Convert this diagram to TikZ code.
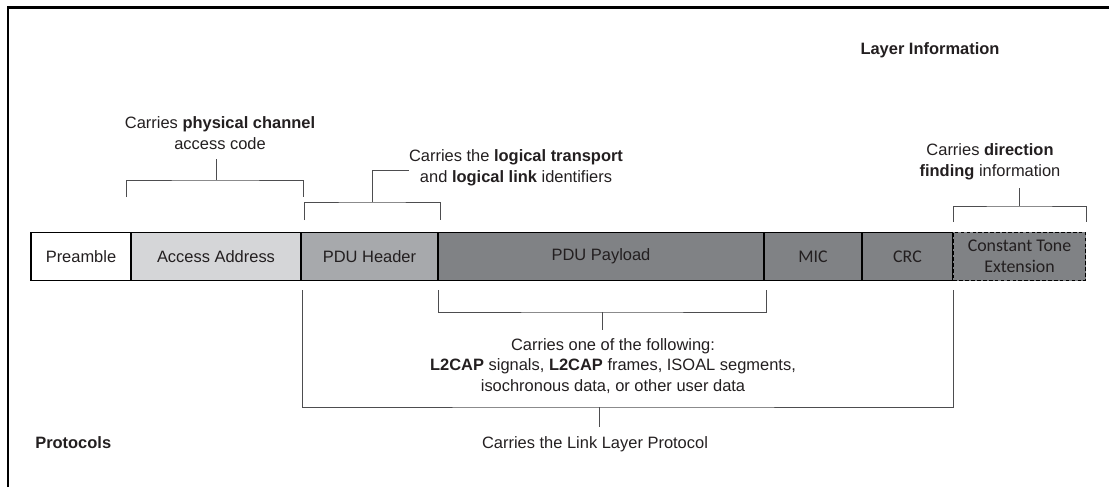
\documentclass[tikz,border=0pt]{standalone}
\usepackage{fontspec}
\setmainfont{Liberation Sans}
\newfontfamily\calfont{Carlito}
\usepackage{tikz}
\definecolor{ink}{HTML}{231F20}
\definecolor{aagray}{HTML}{D5D6D8}
\definecolor{hdrgray}{HTML}{A7A9AC}
\definecolor{pldgray}{HTML}{808285}
\definecolor{bargray}{HTML}{4D4D4F}
\tikzstyle{field} = [rectangle,draw=black,line width=1.3pt,minimum height=1.2cm,
inner sep=0pt,text=ink,font=\fontsize{11.7}{14.8}\selectfont]
\tikzstyle{calfield} = [field,align=center,font=\calfont\fontsize{12.7}{15}\selectfont]
\tikzstyle{note} = [align=center,inner sep=0pt,text=ink,
font=\fontsize{11.7}{14.8}\selectfont]
\tikzstyle{heading} = [note,font=\bfseries\fontsize{11.7}{14.8}\selectfont]
\tikzstyle{bar} = [draw=bargray,line width=0.6pt]
\newcommand{\spanbar}[3]{ %
  % Legs at #1 and #2, crossbar through #3.
  \draw[bar] (#1) |- (#3) -| (#2) ;%
}

\begin{document}
\begin{tikzpicture}[x=0.025cm,y=-0.025cm]
  \useasboundingbox (0,0) rectangle (1109,487);
  \draw[line width=1.6pt] (8,487) -- (8,7.5) -- (1109,7.5);
  \node[heading](layer) at (930,50) {Layer Information};
  \node[heading,anchor=west](proto) at (35,443) {Protocols};
  % packet fields
  \node[field,fill=white,minimum width=2.5cm](pre) at (81,256.5) {Preamble};
  \node[field,fill=aagray,minimum width=4.25cm](aa) at (216,256.5) {Access Address};
  \node[field,fill=hdrgray,minimum width=3.425cm](hdr) at (369.5,256.5) {PDU Header};
  \node[field,fill=pldgray,minimum width=8.15cm](pld) at (601,256.5) {PDU Payload};
  \node[calfield,fill=pldgray,minimum width=2.45cm](mic) at (813,256.5) {MIC};
  \node[calfield,fill=pldgray,minimum width=2.275cm](crc) at (907.5,256.5) {CRC};
  \node[calfield,fill=pldgray,minimum width=3.3cm,dash pattern=on 2.6pt off 1.6pt](cte)
    at (1019.5,256.5) {Constant Tone\\Extension};
  % notes
  \node[note](phys) at (220,133) {Carries \textbf{physical channel}\\access code};
  \node[note](logic) at (516,168) {Carries the \textbf{logical transport}\\and \textbf{logical link} identifiers};
  \node[note](dir) at (990,162) {Carries \textbf{direction}\\\textbf{finding} information};
  \node[note](data) at (613,366) {Carries one of the following:\\
    \textbf{L2CAP} signals, \textbf{L2CAP} frames, ISOAL segments,\\
    isochronous data, or other user data};
  \node[note](llp) at (595,444) {Carries the Link Layer Protocol};
  % brackets
  \coordinate (physa) at (126,197);
  \coordinate (physb) at (303,197);
  \coordinate (physm) at (216,180);
  \coordinate (physt) at (216,159);
  \coordinate (logica) at (304,220);
  \coordinate (logicb) at (440,220);
  \coordinate (logicm) at (372,202);
  \coordinate (logict) at (409,170);
  \coordinate (dira) at (953,222);
  \coordinate (dirb) at (1086,222);
  \coordinate (dirm) at (1019,206);
  \coordinate (dirt) at (1019,188);
  \coordinate (dataa) at (438,290);
  \coordinate (datab) at (766,290);
  \coordinate (datam) at (602,312);
  \coordinate (datat) at (602,330);
  \coordinate (llpa) at (302,290);
  \coordinate (llpb) at (953,290);
  \coordinate (llpm) at (599,407);
  \coordinate (llpt) at (599,427);
  \spanbar{physa}{physb}{physm};
  \spanbar{logica}{logicb}{logicm};
  \spanbar{dira}{dirb}{dirm};
  \spanbar{dataa}{datab}{datam};
  \spanbar{llpa}{llpb}{llpm};
  \draw[bar] (physm) -- (physt);
  \draw[bar] (logicm) |- (logict);
  \draw[bar] (dirm) -- (dirt);
  \draw[bar] (datam) -- (datat);
  \draw[bar] (llpm) -- (llpt);
\end{tikzpicture}
\end{document}
